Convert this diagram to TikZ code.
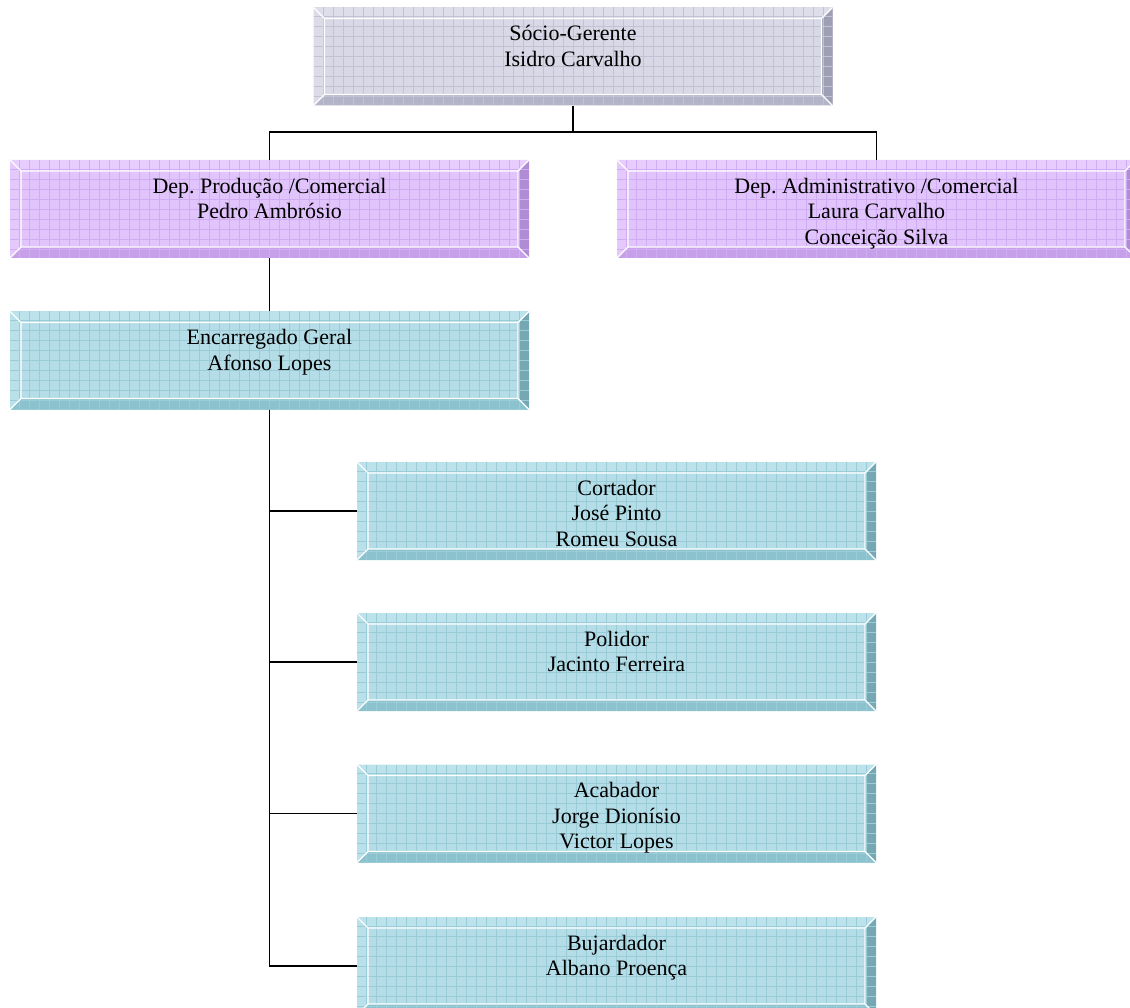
\documentclass[tikz,border=0pt]{standalone}
\usepackage{fontspec}
\setmainfont{Liberation Serif}
\frenchspacing
\definecolor{gface}{RGB}{216,216,230}
\definecolor{gtop}{RGB}{222,222,234}
\definecolor{gleft}{RGB}{220,220,233}
\definecolor{gbot}{RGB}{180,180,200}
\definecolor{gright}{RGB}{158,158,180}
\definecolor{ggrid}{RGB}{194,194,212}
\definecolor{pface}{RGB}{226,196,252}
\definecolor{ptop}{RGB}{231,205,253}
\definecolor{pleft}{RGB}{229,201,253}
\definecolor{pbot}{RGB}{198,160,232}
\definecolor{pright}{RGB}{176,140,212}
\definecolor{pgrid}{RGB}{208,172,242}
\definecolor{cface}{RGB}{180,221,231}
\definecolor{ctop}{RGB}{188,227,235}
\definecolor{cleft}{RGB}{186,225,234}
\definecolor{cbot}{RGB}{140,194,205}
\definecolor{cright}{RGB}{118,168,180}
\definecolor{cgrid}{RGB}{154,204,216}
\def\bw{11pt}
\newcommand\bevelpic[1]{%
  \path (path picture bounding box.north west) coordinate (bNW)
        (path picture bounding box.north east) coordinate (bNE)
        (path picture bounding box.south west) coordinate (bSW)
        (path picture bounding box.south east) coordinate (bSE);
  \path ([shift={(\bw,-\bw)}]bNW) coordinate (iNW)
        ([shift={(-\bw,-\bw)}]bNE) coordinate (iNE)
        ([shift={(\bw,\bw)}]bSW) coordinate (iSW)
        ([shift={(-\bw,\bw)}]bSE) coordinate (iSE);
  \fill[#1top] (bNW) -- (bNE) -- (iNE) -- (iNW) -- cycle;
  \fill[#1left] (bNW) -- (iNW) -- (iSW) -- (bSW) -- cycle;
  \fill[#1right] (bNE) -- (bSE) -- (iSE) -- (iNE) -- cycle;
  \fill[#1bot] (bSW) -- (iSW) -- (iSE) -- (bSE) -- cycle;
  \draw[#1grid, line width=0.6pt, step=10pt] (bSW) grid (bNE);
  \draw[white, line width=1.3pt] (iNW) rectangle (iSE)
        (bNW) -- (iNW) (bNE) -- (iNE) (bSW) -- (iSW) (bSE) -- (iSE);
}
\tikzset{
  orgbox/.style={minimum width=519pt, minimum height=98pt, inner sep=0pt,
    fill=#1face, path picture={\bevelpic{#1}}},
  orgtext/.style={anchor=north, yshift=-15.5pt, inner sep=0pt, align=center,
    font=\fontsize{22}{25.5}\selectfont},
  link/.style={draw=black, line width=1.2pt},
}
\begin{document}
\begin{tikzpicture}[x=1pt, y=-1pt]
\useasboundingbox (0,0) rectangle (1130,1008);
\clip (0,0) rectangle (1130,1008);
\fill[white] (0,0) rectangle (1130,1008);
% boxes
\node[orgbox=g] (top) at (573,56.5) {};
\node[orgbox=p] (depP) at (269.5,209) {};
\node[orgbox=p] (depA) at (876.5,209) {};
\node[orgbox=c] (enc) at (269.5,360.5) {};
\node[orgbox=c] (cort) at (616.5,511) {};
\node[orgbox=c] (poli) at (616.5,662) {};
\node[orgbox=c] (acab) at (616.5,813.5) {};
\node[orgbox=c] (buja) at (616.5,966) {};
% texts
\node[orgtext] (ttop) at (top.north) {\strut Sócio-Gerente\\Isidro Carvalho};
\node[orgtext] (tdepP) at (depP.north) {\strut Dep. Produção /Comercial\\Pedro Ambrósio};
\node[orgtext] (tdepA) at (depA.north) {\strut Dep. Administrativo /Comercial\\Laura Carvalho\\Conceição Silva};
\node[orgtext] (tenc) at (enc.north) {\strut Encarregado Geral\\Afonso Lopes};
\node[orgtext] (tcort) at (cort.north) {\strut Cortador\\José Pinto\\Romeu Sousa};
\node[orgtext] (tpoli) at (poli.north) {\strut Polidor\\Jacinto Ferreira};
\node[orgtext] (tacab) at (acab.north) {\strut Acabador\\Jorge Dionísio\\Victor Lopes};
\node[orgtext] (tbuja) at (buja.north) {\strut Bujardador\\Albano Proença};
% connectors
\coordinate (bus) at (573,132);
\draw[link] (top.south) -- (bus);
\draw[link] (bus) -| (depP.north);
\draw[link] (bus) -| (depA.north);
\draw[link] (depP.south) -- (enc.north);
\draw[link] (enc.south) |- (cort.west);
\draw[link] (enc.south) |- (poli.west);
\draw[link] (enc.south) |- (acab.west);
\draw[link] (enc.south) |- (buja.west);
\end{tikzpicture}
\end{document}
